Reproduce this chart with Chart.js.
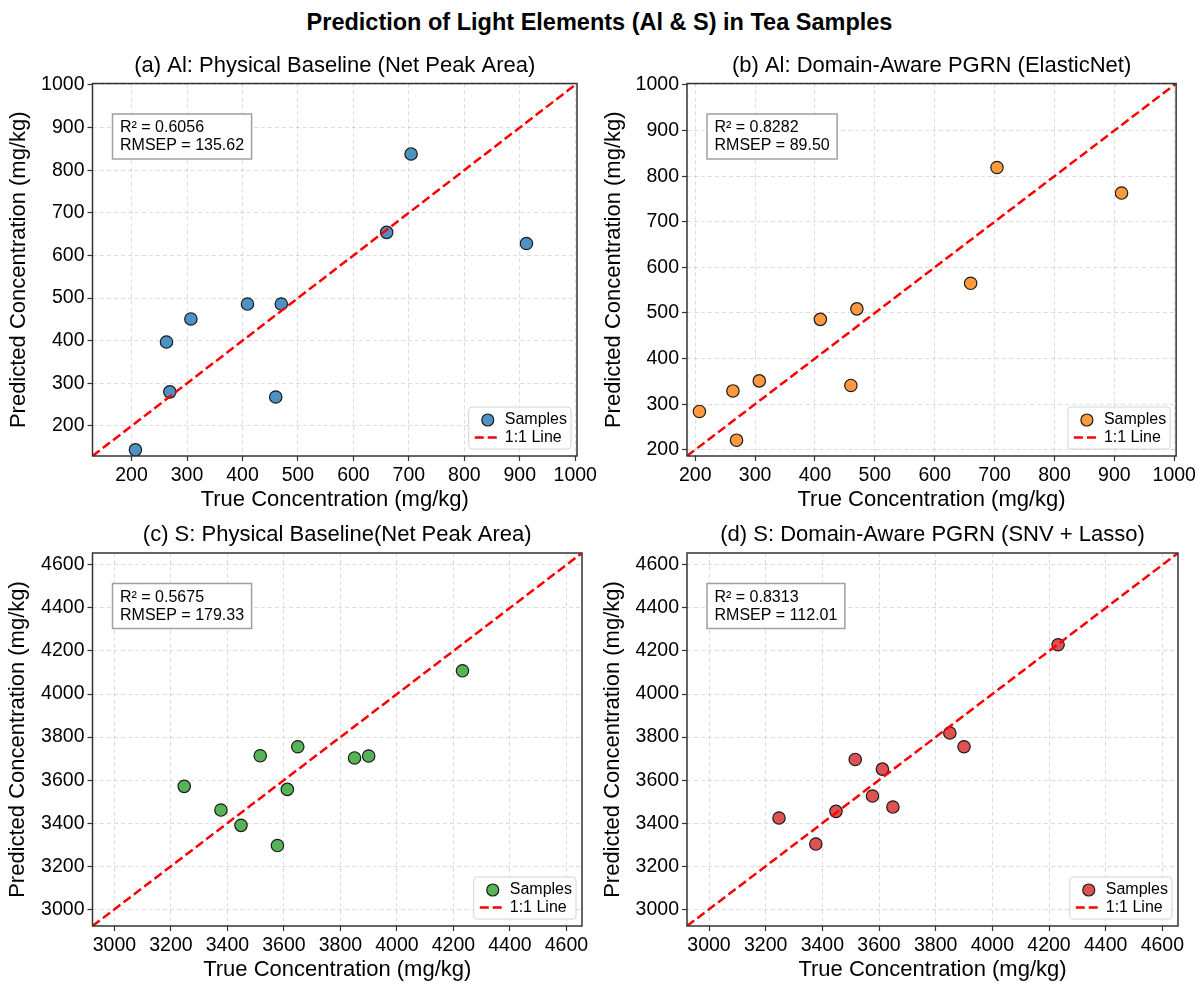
<!DOCTYPE html>
<html>
<head>
<meta charset="utf-8">
<script src="https://cdn.jsdelivr.net/npm/chart.js@4.4.0/dist/chart.umd.min.js"></script>
<style>
  body{margin:0;background:#fff;}
  #lienzo{position:relative;width:1199px;height:984px;background:#fff;overflow:hidden;font-family:"Liberation Sans",Arial,sans-serif;}
  #titulo{position:absolute;left:0;top:8px;width:1199px;line-height:28px;text-align:center;font-weight:bold;font-size:23.5px;color:#000;}
  canvas{position:absolute;}
</style>
</head>
<body>
<div id="lienzo">
  <div id="titulo">Prediction of Light Elements (Al &amp; S) in Tea Samples</div>
  <canvas id="panel-a" width="600" height="475" style="left:0;top:40px"></canvas>
  <canvas id="panel-b" width="599" height="475" style="left:600px;top:40px"></canvas>
  <canvas id="panel-c" width="600" height="474" style="left:0;top:510px"></canvas>
  <canvas id="panel-d" width="599" height="474" style="left:600px;top:510px"></canvas>
</div>
<script>
//------- datos
var alReal = [207, 263, 269, 307, 409, 460, 470, 660, 704, 912];
var alPredFisico = [144, 397, 280, 451, 486, 268, 486, 654, 838, 628];
var alPredPgrn = [284, 329, 221, 351, 486, 341, 509, 565, 819, 763];

var sReal = [3247, 3377, 3448, 3516, 3577, 3612, 3649, 3850, 3900, 4232];
var sPredFisico = [3571, 3461, 3390, 3713, 3296, 3557, 3755, 3703, 3712, 4108];
var sPredPgrn = [3424, 3303, 3455, 3696, 3526, 3651, 3475, 3819, 3755, 4229];

var titulosPanel = [
  '(a) Al: Physical Baseline (Net Peak Area)',
  '(b) Al: Domain-Aware PGRN (ElasticNet)',
  '(c) S: Physical Baseline(Net Peak Area)',
  '(d) S: Domain-Aware PGRN (SNV + Lasso)'
];
var estadPanel = [
  ['R\u00b2 = 0.6056', 'RMSEP = 135.62'],
  ['R\u00b2 = 0.8282', 'RMSEP = 89.50'],
  ['R\u00b2 = 0.5675', 'RMSEP = 179.33'],
  ['R\u00b2 = 0.8313', 'RMSEP = 112.01']
];
var etiquetasLeyenda = ['Samples', '1:1 Line'];
var tituloX = 'True Concentration (mg/kg)';
var tituloY = 'Predicted Concentration (mg/kg)';

var FUENTE = '"Liberation Sans", Arial, sans-serif';
Chart.defaults.font.family = FUENTE;
Chart.defaults.color = '#000';
Chart.defaults.animation = false;

// titulo del panel, marco, caja de estadisticas y leyenda
var decoracion = {
  id: 'decoracion',
  afterDatasetsDraw: function(chart, args, opts){
    var ctx = chart.ctx;
    var a = chart.chartArea;
    ctx.save();

    // titulo centrado sobre el area de datos
    ctx.font = '22px ' + FUENTE;
    ctx.fillStyle = '#000';
    ctx.textAlign = 'center';
    ctx.textBaseline = 'middle';
    ctx.fillText(opts.titulo, (a.left + a.right) / 2, a.top - 18);

    // caja R2 / RMSEP
    ctx.font = '16px ' + FUENTE;
    ctx.textAlign = 'left';
    var anchoTxt = Math.max(ctx.measureText(opts.estad[0]).width, ctx.measureText(opts.estad[1]).width);
    var bx = a.left + 20, by = a.top + 30.5;
    ctx.fillStyle = '#fff';
    ctx.fillRect(bx, by, anchoTxt + 15, 45);
    ctx.strokeStyle = '#a0a0a0';
    ctx.lineWidth = 1.5;
    ctx.strokeRect(bx, by, anchoTxt + 15, 45);
    ctx.fillStyle = '#000';
    ctx.fillText(opts.estad[0], bx + 7.5, by + 14);
    ctx.fillText(opts.estad[1], bx + 7.5, by + 32);

    // leyenda abajo a la derecha
    var anchoLey = Math.max(ctx.measureText(etiquetasLeyenda[0]).width, ctx.measureText(etiquetasLeyenda[1]).width) + 40;
    var lx = a.right - 6 - anchoLey, ly = a.bottom - 7 - 42;
    ctx.fillStyle = 'rgba(255,255,255,0.85)';
    ctx.strokeStyle = '#d4d4d4';
    ctx.lineWidth = 1;
    ctx.beginPath();
    ctx.roundRect(lx, ly, anchoLey, 42, 3);
    ctx.fill();
    ctx.stroke();
    ctx.beginPath();
    ctx.arc(lx + 19, ly + 13, 6, 0, Math.PI * 2);
    ctx.fillStyle = opts.color;
    ctx.fill();
    ctx.strokeStyle = '#1a1a1a';
    ctx.lineWidth = 1.2;
    ctx.stroke();
    ctx.beginPath();
    ctx.setLineDash([9, 4]);
    ctx.strokeStyle = '#ff0000';
    ctx.lineWidth = 2.5;
    ctx.moveTo(lx + 6, ly + 30.5);
    ctx.lineTo(lx + 31, ly + 30.5);
    ctx.stroke();
    ctx.setLineDash([]);
    ctx.fillStyle = '#000';
    ctx.fillText(etiquetasLeyenda[0], lx + 36, ly + 13);
    ctx.fillText(etiquetasLeyenda[1], lx + 36, ly + 30.5);

    // marco completo
    ctx.strokeStyle = '#333';
    ctx.lineWidth = 1.5;
    ctx.strokeRect(a.left, a.top, a.right - a.left, a.bottom - a.top);
    ctx.restore();
  }
};

function crearPanel(idCanvas, n, xs, ys, color, lay){
  var todos = xs.concat(ys);
  var lo = Math.min.apply(null, todos) * 0.9;
  var hi = Math.max.apply(null, todos) * 1.1;
  var paso = hi > 2000 ? 200 : 100;
  var puntos = xs.map(function(v, i){ return {x: v, y: ys[i]}; });

  var rejilla = {color: 'rgba(190,190,190,0.6)', lineWidth: 0.9, tickLength: 5, tickColor: '#333', tickWidth: 1.2, tickBorderDash: []};
  var marcas = {stepSize: paso, includeBounds: false, autoSkip: false, maxRotation: 0, color: '#000',
    font: {size: 19.5}, callback: function(v){ return String(v); }};

  return new Chart(document.getElementById(idCanvas).getContext('2d'), {
    type: 'scatter',
    data: {
      datasets: [
        {type: 'line', label: etiquetasLeyenda[1], data: [{x: lo, y: lo}, {x: hi, y: hi}],
         borderColor: '#ff0000', borderWidth: 2.5, borderDash: [9, 4], pointRadius: 0, fill: false, order: 0},
        {label: etiquetasLeyenda[0], data: puntos, backgroundColor: color, borderColor: '#1a1a1a',
         borderWidth: 1.2, pointRadius: 6.2, order: 1}
      ]
    },
    options: {
      responsive: false,
      layout: {padding: {left: 0, right: lay.derecha, top: lay.arriba, bottom: 0}},
      plugins: {
        legend: {display: false},
        tooltip: {enabled: false},
        title: {display: false},
        decoracion: {titulo: titulosPanel[n], estad: estadPanel[n], color: color}
      },
      scales: {
        x: {type: 'linear', position: 'bottom', min: lo, max: hi,
          ticks: Object.assign({padding: 3}, marcas),
          grid: rejilla,
          border: {display: false, dash: [4, 3]},
          title: {display: true, text: tituloX, color: '#000', font: {size: 22}, padding: {top: 0, bottom: lay.pieX}},
          afterFit: function(s){ s.height = lay.altoX; }},
        y: {type: 'linear', position: 'left', min: lo, max: hi,
          ticks: Object.assign({padding: 3}, marcas),
          grid: rejilla,
          border: {display: false, dash: [4, 3]},
          title: {display: true, text: tituloY, color: '#000', font: {size: 22}, padding: {top: lay.tituloY, bottom: 0}},
          afterFit: function(s){ s.width = lay.anchoY; }}
      }
    },
    plugins: [decoracion]
  });
}

crearPanel('panel-a', 0, alReal, alPredFisico, '#4c92c3', {derecha: 18, arriba: 43.5, altoX: 59, pieX: 1.8, anchoY: 92.5, tituloY: 5.8});
crearPanel('panel-b', 1, alReal, alPredPgrn, '#ff993e', {derecha: 21, arriba: 43.5, altoX: 59, pieX: 1.8, anchoY: 87, tituloY: 0.3});
crearPanel('panel-c', 2, sReal, sPredFisico, '#56b356', {derecha: 18, arriba: 43, altoX: 58, pieX: 0.8, anchoY: 92.5, tituloY: 4.8});
crearPanel('panel-d', 3, sReal, sPredPgrn, '#de5253', {derecha: 21, arriba: 43, altoX: 58, pieX: 0.8, anchoY: 87, tituloY: 0});
</script>
</body>
</html>
